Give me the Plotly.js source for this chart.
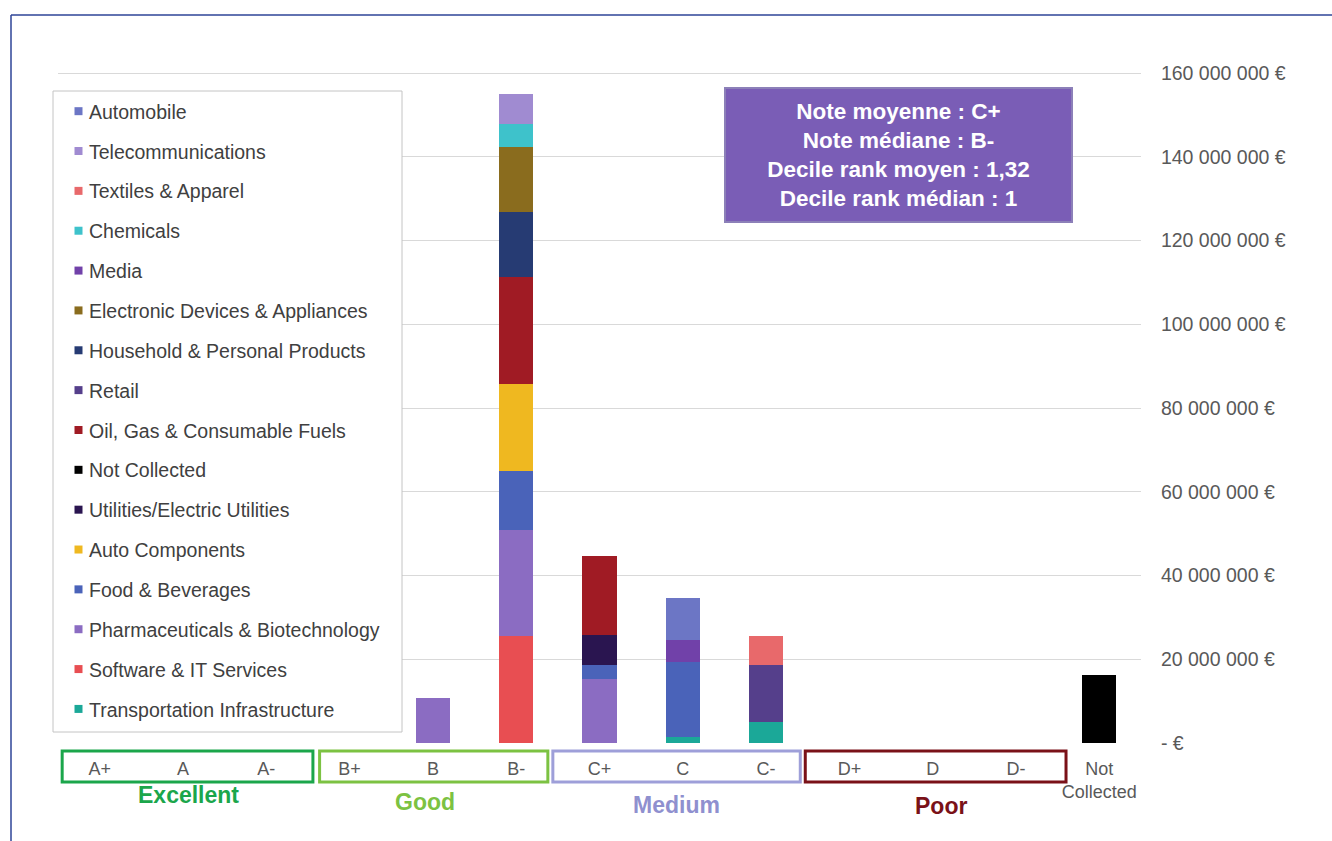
<!DOCTYPE html>
<html>
<head>
<meta charset="utf-8">
<script src="https://cdn.plot.ly/plotly-3.0.1.min.js"></script>
<style>html,body{margin:0;padding:0;background:#fff;}</style>
</head>
<body>
<div id="chart" style="width:1332px;height:841px;"></div>
<script>
// Categories (ratings)
const categories = ['A+','A','A-','B+','B','B-','C+','C','C-','D+','D','D-','Not Collected'];
const categoryLabels = ['A+','A','A-','B+','B','B-','C+','C','C-','D+','D','D-','Not<br>Collected'];

// Series values in € (stacking order bottom -> top)
const transportation = [null,null,null,null,null,null,null,1.4e6,5.1e6,null,null,null,null];
const software       = [null,null,null,null,null,25.6e6,null,null,null,null,null,null,null];
const pharma         = [null,null,null,null,10.7e6,25.2e6,15.2e6,null,null,null,null,null,null];
const food           = [null,null,null,null,null,14.2e6,3.4e6,17.9e6,null,null,null,null,null];
const autoComponents = [null,null,null,null,null,20.7e6,null,null,null,null,null,null,null];
const utilities      = [null,null,null,null,null,null,7.3e6,null,null,null,null,null,null];
const notCollected   = [null,null,null,null,null,null,null,null,null,null,null,null,16.2e6];
const oilGas         = [null,null,null,null,null,25.5e6,18.7e6,null,null,null,null,null,null];
const retail         = [null,null,null,null,null,null,null,null,13.5e6,null,null,null,null];
const household      = [null,null,null,null,null,15.7e6,null,null,null,null,null,null,null];
const electronic     = [null,null,null,null,null,15.5e6,null,null,null,null,null,null,null];
const media          = [null,null,null,null,null,null,null,5.3e6,null,null,null,null,null];
const chemicals      = [null,null,null,null,null,5.4e6,null,null,null,null,null,null,null];
const textiles       = [null,null,null,null,null,null,null,null,6.9e6,null,null,null,null];
const telecom        = [null,null,null,null,null,7.2e6,null,null,null,null,null,null,null];
const automobile     = [null,null,null,null,null,null,null,10.1e6,null,null,null,null,null];

const seriesNames = ['Transportation Infrastructure','Software & IT Services','Pharmaceuticals & Biotechnology',
  'Food & Beverages','Auto Components','Utilities/Electric Utilities','Not Collected','Oil, Gas & Consumable Fuels',
  'Retail','Household & Personal Products','Electronic Devices & Appliances','Media','Chemicals',
  'Textiles & Apparel','Telecommunications','Automobile'];
const seriesValues = [transportation,software,pharma,food,autoComponents,utilities,notCollected,oilGas,
  retail,household,electronic,media,chemicals,textiles,telecom,automobile];
const seriesColors = ['#1ba898','#e84e52','#8b6cc2','#4a63b9','#efb820','#2a1550','#000000','#a01b24',
  '#553f8b','#263b73','#8a6c1e','#7141a9','#3ec2cb','#e8696b','#a08bd1','#6c76c5'];

// Y ticks
const yTickVals = [0,20e6,40e6,60e6,80e6,100e6,120e6,140e6,160e6];
const yTickText = ['- €','20 000 000 €','40 000 000 €','60 000 000 €','80 000 000 €','100 000 000 €','120 000 000 €','140 000 000 €','160 000 000 €'];
const yMax = 160.478e6;

// Groups
const groupNames = ['Excellent','Good','Medium','Poor'];
const groupColors = ['#1ba64b','#7cc242','#9e9fd9','#7a1118'];
const groupTextColors = ['#1ba64b','#7cc242','#8f90cf','#7a1118'];
const groupX0 = [-0.45, 2.64, 5.44, 8.47];
const groupX1 = [2.56, 5.38, 8.41, 11.6];
const groupLabelX = [1.07, 3.9, 6.93, 10.1];
const groupLabelYpx = [795, 802, 805, 806];

const infoText = '<b>Note moyenne : C+</b><br><b>Note médiane : B-</b><br><b>Decile rank moyen : 1,32</b><br><b>Decile rank médian : 1</b>';

const ML = 58, MR = 191, MT = 71, MB = 98, W = 1332, H = 841;
const PW = W - ML - MR, PH = H - MT - MB;
const px = x => (x - ML) / PW;
const py = y => (H - MB - y) / PH;

const traces = seriesNames.map((n, i) => ({
  type: 'bar',
  name: n,
  x: categories,
  y: seriesValues[i],
  marker: {color: seriesColors[i], line: {width: 0}},
  legendgroup: 'g' + i,
  legendrank: seriesNames.length - i,
  hoverinfo: 'name+y'
}));

const shapes = [];
// outer frame lines
shapes.push({type:'line', xref:'paper', yref:'paper', x0:px(11), x1:px(1332), y0:py(15), y1:py(15), line:{color:'#2e4597', width:1.5}});
shapes.push({type:'line', xref:'paper', yref:'paper', x0:px(11), x1:px(11), y0:py(15), y1:py(841), line:{color:'#2e4597', width:1.5}});
// legend box
shapes.push({type:'rect', xref:'paper', yref:'paper', x0:px(53), x1:px(402), y0:py(732), y1:py(91), fillcolor:'#ffffff', line:{color:'#c4c4c4', width:1}, layer:'above'});
// group boxes
groupNames.forEach((g, i) => {
  shapes.push({type:'rect', xref:'x', yref:'paper', x0:groupX0[i], x1:groupX1[i], y0:py(782), y1:py(751),
    line:{color:groupColors[i], width:3}, fillcolor:'rgba(0,0,0,0)', layer:'below'});
});

const annotations = [];
groupNames.forEach((g, i) => {
  annotations.push({xref:'x', yref:'paper', x:groupLabelX[i], y:py(groupLabelYpx[i]), text:'<b>' + g + '</b>',
    showarrow:false, xanchor:'center', yanchor:'middle', font:{size:23, color:groupTextColors[i]}});
});
annotations.push({xref:'paper', yref:'paper', x:px(898.5), y:py(155), xanchor:'center', yanchor:'middle',
  text:infoText, showarrow:false, align:'center', width:345, height:132, bgcolor:'#7a5db6',
  bordercolor:'#8c80b8', borderwidth:2, borderpad:0, font:{size:22.5, color:'#ffffff'}});

const layout = {
  width: W, height: H,
  margin: {l: ML, r: MR, t: MT, b: MB, pad: 0},
  paper_bgcolor: '#ffffff', plot_bgcolor: '#ffffff',
  barmode: 'stack', bargap: 0.59,
  font: {family: '"Liberation Sans", Arial, sans-serif', color: '#595959'},
  showlegend: true,
  xaxis: {type:'category', tickvals: categories, ticktext: categoryLabels, tickfont:{size:18, color:'#595959'},
    ticks:'outside', ticklen:9, tickcolor:'rgba(0,0,0,0)', showgrid:false, zeroline:false, showline:false},
  yaxis: {side:'right', range:[0,yMax], tickvals:yTickVals, ticktext:yTickText, tickfont:{size:19.5, color:'#595959'},
    gridcolor:'#d9d9d9', gridwidth:1, zeroline:false, showline:false, ticks:'outside', ticklen:15, tickcolor:'rgba(0,0,0,0)'},
  legend: {x: px(49), xanchor:'left', y: py(92), yanchor:'top', bgcolor:'rgba(0,0,0,0)', borderwidth:0,
    font:{size:19.5, color:'#404040'}, traceorder:'grouped', tracegroupgap:11.5},
  shapes: shapes,
  annotations: annotations
};

Plotly.newPlot('chart', traces, layout, {displayModeBar:false, staticPlot:true}).then(() => {
  document.querySelectorAll('.legend .legendpoints path').forEach(p => p.setAttribute('d','M13.5,4H5.5V-4H13.5Z'));
});
</script>
</body>
</html>
